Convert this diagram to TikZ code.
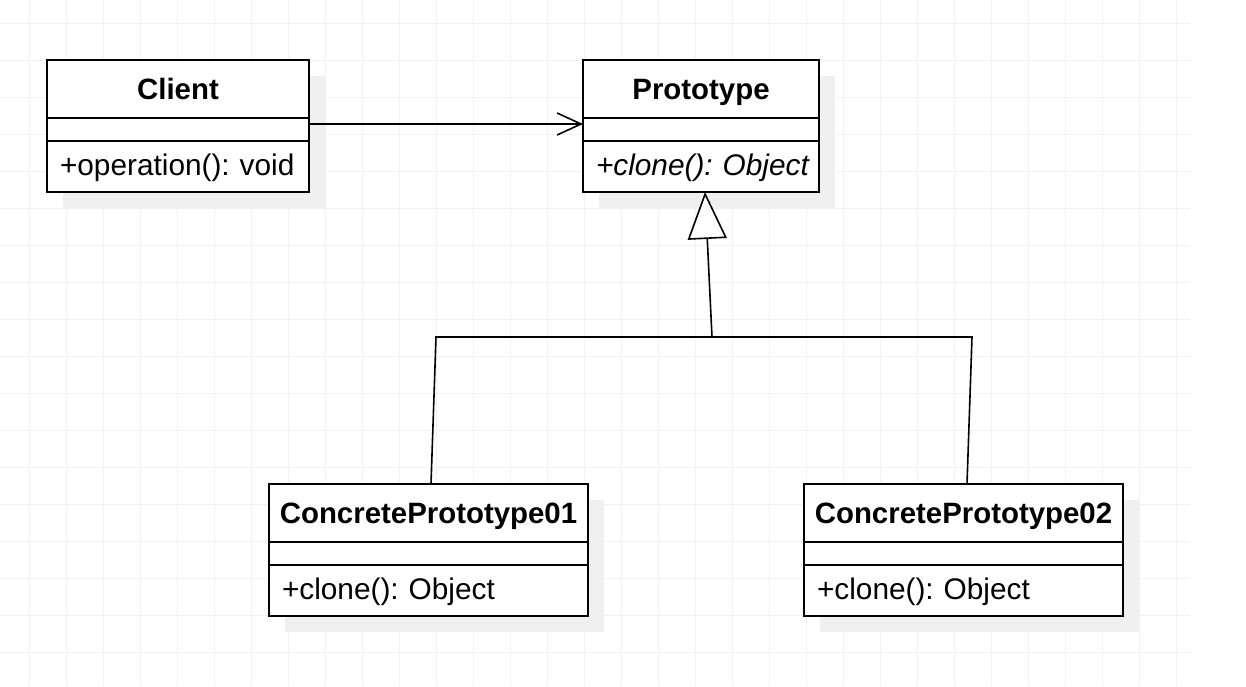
\documentclass[tikz,border=0pt]{standalone}
\usepackage{fontspec}
\setmainfont{Liberation Sans}
\usetikzlibrary{arrows.meta,positioning,backgrounds}

\tikzset{
  part/.style={draw, line width=1.7pt, fill=white, outer sep=0pt, inner sep=0pt,
    minimum height=23, font=\fontsize{29.8}{34}\selectfont\frenchspacing},
  head/.style={part, minimum height=58, text height=24pt, text depth=3.2pt,
    font=\fontsize{29.4}{34}\selectfont\bfseries},
  meth/.style={part, minimum height=51, text height=20pt, text depth=3pt,
    inner xsep=13pt, align=left},
  gridline/.style={draw=black!5, line width=0.8pt},
  shade/.style={fill=black!6},
  dep/.style={line width=1.6pt, -{Straight Barb[length=24pt,width=22pt]}},
  gen/.style={line width=1.6pt, -{Triangle[open,fill=white,length=47pt,width=39pt]}},
  link/.style={line width=1.6pt}
}

\begin{document}
\begin{tikzpicture}[x=1pt,y=-1pt]
\useasboundingbox (0,0) rectangle (1246,686);

\node[head, minimum width=262, anchor=north west] (cliT) at (47,60) {Client};
\node[part, minimum width=262, below=0pt of cliT] (cliE) {};
\node[meth, text width=236, below=0pt of cliE] (cliM) {\mbox{+operation(): void}};

\node[head, minimum width=236, anchor=north west] (proT) at (583,60) {Prototype};
\node[part, minimum width=236, below=0pt of proT] (proE) {};
\node[meth, text width=210, below=0pt of proE] (proM) {\mbox{\itshape +clone(): Object}};

\node[head, minimum width=319, anchor=north west] (cp1T) at (269,484) {ConcretePrototype01};
\node[part, minimum width=319, below=0pt of cp1T] (cp1E) {};
\node[meth, text width=293, below=0pt of cp1E] (cp1M) {\mbox{+clone(): Object}};

\node[head, minimum width=319, anchor=north west] (cp2T) at (804,484) {ConcretePrototype02};
\node[part, minimum width=319, below=0pt of cp2T] (cp2E) {};
\node[meth, text width=293, below=0pt of cp2E] (cp2M) {\mbox{+clone(): Object}};

% bus of the two subclasses
\coordinate (busL) at (436,337);
\coordinate (busM) at (712,337);
\coordinate (busR) at (972,337);

\draw[dep] ([yshift=5.5pt]cliE.east) -- ([yshift=5.5pt]proE.west);
\draw[link] ([xshift=2.5pt]cp1T.north) -- (busL) -- (busR) -- ([xshift=3.5pt]cp2T.north);
\draw[gen] (busM) -- ([xshift=4pt]proM.south);

\begin{scope}[on background layer]
\foreach \gx in {0,...,31} \draw[gridline] (29.7+37*\gx,0) -- (29.7+37*\gx,686);
\foreach \gy in {0,...,17} \draw[gridline] (0,23.3+37*\gy) -- (1190,23.3+37*\gy);
\fill[shade] ([shift={(16,16)}]cliT.north west) rectangle ([shift={(16,16)}]cliM.south east);
\fill[shade] ([shift={(16,16)}]proT.north west) rectangle ([shift={(16,16)}]proM.south east);
\fill[shade] ([shift={(16,16)}]cp1T.north west) rectangle ([shift={(16,16)}]cp1M.south east);
\fill[shade] ([shift={(16,16)}]cp2T.north west) rectangle ([shift={(16,16)}]cp2M.south east);
\end{scope}

\end{tikzpicture}
\end{document}
